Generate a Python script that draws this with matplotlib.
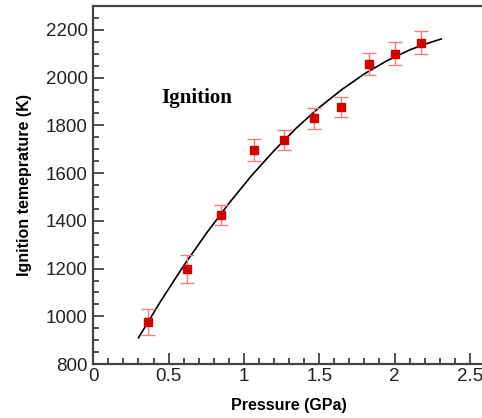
import matplotlib.pyplot as plt
from matplotlib.ticker import MultipleLocator

# measured ignition points
pressure = [0.364, 0.625, 0.847, 1.068, 1.268, 1.463, 1.647, 1.831, 2.006, 2.179]
temperature = [976, 1199, 1426, 1696, 1739, 1830, 1876, 2057, 2101, 2147]
temp_err = [56, 60, 42, 47, 41, 43, 42, 46, 49, 49]

# fitted curve
fit_p = [0.30, 0.45, 0.60, 0.75, 0.90, 1.05, 1.20, 1.35, 1.50, 1.65, 1.80, 1.95, 2.10, 2.20, 2.31]
fit_t = [910, 1066, 1212, 1347, 1473, 1589, 1694, 1790, 1875, 1950, 2016, 2071, 2116, 2140, 2162]

plt.rcParams['font.family'] = ['Liberation Sans', 'DejaVu Sans']

fig = plt.figure(figsize=(4.82, 4.18), dpi=100)
ax = fig.add_axes([0.1935, 0.129, 0.8125, 0.8565])

ax.plot(fit_p, fit_t, color='black', lw=1.2, zorder=2)
ax.errorbar(pressure, temperature, yerr=temp_err, fmt='none', ecolor='#ec8080',
            elinewidth=1.0, capsize=5, capthick=1.0, zorder=3)
ax.plot(pressure, temperature, 's', color='#d00000', markersize=6.3, zorder=4)

ax.text(0.454, 1914, 'Ignition', family='Liberation Serif', fontweight='bold',
        fontsize=15, ha='left', va='center')

ax.set_xlim(0, 2.6)
ax.set_ylim(800, 2300)
ax.xaxis.set_major_locator(MultipleLocator(0.5))
ax.xaxis.set_minor_locator(MultipleLocator(0.1))
ax.yaxis.set_major_locator(MultipleLocator(200))
ax.yaxis.set_minor_locator(MultipleLocator(50))
ax.set_xticks([0, 0.5, 1, 1.5, 2, 2.5])
ax.set_xticklabels(['0', '0.5', '1', '1.5', '2', '2.5'])

ax.tick_params(which='both', direction='in', top=False, right=False, colors='#333333',
               labelcolor='#222222', labelsize=13.5, width=1.2)
ax.tick_params(which='major', length=8)
ax.tick_params(axis='x', which='major', pad=3)
ax.tick_params(axis='y', which='major', pad=4)
ax.tick_params(which='minor', length=4)
for s in ax.spines.values():
    s.set_linewidth(1.6)
    s.set_color('#444444')

ax.set_xlabel('Pressure (GPa)', fontsize=11.5, fontweight='bold', labelpad=9)
ax.set_ylabel('Ignition temeprature (K)', fontsize=11.5, fontweight='bold', labelpad=10)

fig.savefig('out.png', dpi=100)
